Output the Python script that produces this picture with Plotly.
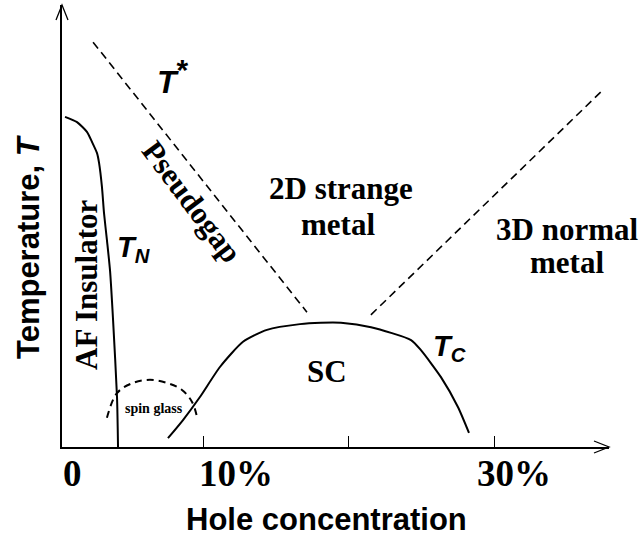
import plotly.graph_objects as go

# Hole concentration (%) and temperature (arbitrary units, 0-100)
tn_x = [0.55, 1.37, 2.05, 2.40, 2.74, 2.88, 3.08, 3.22, 3.42, 3.63, 3.84, 4.11, 4.18]
tn_t = [74.7, 73.5, 71.3, 69.0, 66.5, 64.3, 58.8, 52.9, 46.8, 40.0, 28.7, 11.3, 0.0]

tstar_x = [2.47, 17.12]
tstar_t = [91.6, 30.5]

cross_x = [21.5, 37.4]
cross_t = [29.9, 80.8]

tc_x = [7.60, 8.63, 9.79, 11.16, 12.74, 14.38, 16.64, 18.08, 19.45, 21.51, 24.25, 24.93, 26.30, 27.47, 28.22]
tc_t = [2.0, 6.1, 11.3, 18.1, 23.8, 26.5, 27.8, 28.1, 28.1, 27.1, 24.2, 21.9, 15.8, 9.0, 3.2]

sg_x = [3.42, 4.11, 5.21, 6.37, 7.53, 8.56, 9.25, 9.59]
sg_t = [6.6, 12.2, 14.5, 15.2, 14.5, 12.9, 10.2, 6.8]

tick_vals = [10, 20, 30]
tick_labels = ["0", "10%", "30%"]

X_MIN, X_MAX = 0.342, 37.81
T_MIN, T_MAX = 0.0, 100.0

W, H = 642, 541
ML, MR, MT, MB = 62, 33, 5, 94
PW, PH = W - ML - MR, H - MT - MB

SERIF = "Liberation Serif, Times New Roman, serif"
SANS = "Liberation Sans, Arial, sans-serif"


def paper(px, py):
    """Figure pixel position -> paper coordinates."""
    return (px - ML) / PW, (H - MB - py) / PH


fig = go.Figure()

solid = dict(color="black", width=2)
dashed = dict(color="black", width=1.6, dash="8px,5px")

fig.add_trace(go.Scatter(x=tn_x, y=tn_t, mode="lines",
                         line=dict(**solid, shape="spline", smoothing=0.6)))
fig.add_trace(go.Scatter(x=tstar_x, y=tstar_t, mode="lines", line=dashed))
fig.add_trace(go.Scatter(x=cross_x, y=cross_t, mode="lines", line=dashed))
fig.add_trace(go.Scatter(x=tc_x, y=tc_t, mode="lines",
                         line=dict(**solid, shape="spline", smoothing=0.6)))
fig.add_trace(go.Scatter(x=sg_x, y=sg_t, mode="lines",
                         line=dict(color="black", width=2, dash="7px,5px",
                                   shape="spline", smoothing=1.0)))

# open arrowheads at the ends of both axes (paper refs so they are not clipped)
arrow_line = dict(color="black", width=1.3)
fig.add_shape(type="path", xref="paper", yref="paper",
              xsizemode="pixel", ysizemode="pixel",
              xanchor=1, yanchor=0,
              path="M-15,6 L0,0 L-15,-6", line=arrow_line)
fig.add_shape(type="path", xref="paper", yref="paper",
              xsizemode="pixel", ysizemode="pixel",
              xanchor=0, yanchor=1,
              path="M-6,-15 L0,0 L6,-15", line=arrow_line)


def label(text, px, py, font, size, angle=0):
    x, y = paper(px, py)
    fig.add_annotation(x=x, y=y, xref="paper", yref="paper", text=text,
                       showarrow=False, xanchor="center", yanchor="middle",
                       textangle=angle,
                       font=dict(family=font, size=size, color="black",
                                 weight="bold"))


# region names
label("2D strange", 341, 189, SERIF, 31)
label("metal", 338, 224, SERIF, 31)
label("3D normal", 567, 229, SERIF, 31)
label("metal", 567, 263, SERIF, 31)
label("SC", 327, 371, SERIF, 31)
label("Pseudogap", 192, 201, SERIF, 31, angle=53)
label("AF Insulator", 86, 285, SERIF, 31, angle=-90)
label("spin glass", 154, 408, SERIF, 14)

# transition temperatures
label("<i>T</i><sup><span style='font-size:30px'>*</span></sup>", 173, 76, SANS, 32)
label("<i>T<sub>N</sub></i>", 133, 249, SANS, 29)
label("<i>T<sub>C</sub></i>", 449, 348, SANS, 29)

# axis labels and tick labels
label(tick_labels[0], 72, 473, SERIF, 37)
label(tick_labels[1], 236, 473, SERIF, 37)
label(tick_labels[2], 514, 473, SERIF, 37)
label("Hole concentration", 326, 519, SANS, 31)
label("Temperature, <i>T</i>", 28, 247, SANS, 31, angle=-90)

fig.update_layout(
    width=W, height=H, autosize=False,
    margin=dict(l=ML, r=MR, t=MT, b=MB, pad=0),
    paper_bgcolor="white", plot_bgcolor="white",
    showlegend=False,
    xaxis=dict(range=[X_MIN, X_MAX], showline=True, linewidth=2,
               linecolor="black", ticks="inside", tickvals=tick_vals,
               ticklen=11, tickwidth=1, tickcolor="black",
               showticklabels=False, showgrid=False, zeroline=False),
    yaxis=dict(range=[T_MIN, T_MAX], showline=True, linewidth=2,
               linecolor="black", ticks="", showticklabels=False,
               showgrid=False, zeroline=False),
)

fig.write_html("out.html")
